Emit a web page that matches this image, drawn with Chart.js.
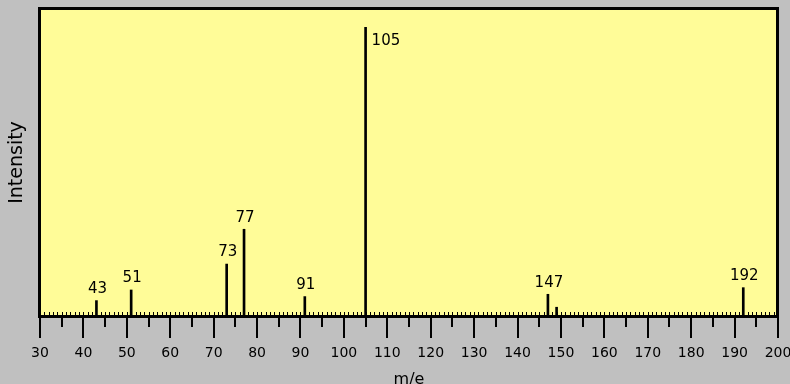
<!DOCTYPE html>
<html>
<head>
<meta charset="utf-8">
<script src="https://cdn.jsdelivr.net/npm/chart.js@4/dist/chart.umd.min.js"></script>
<style>
  html, body { margin: 0; padding: 0; background: #c0c0c0; }
  #wrap { width: 790px; height: 384px; }
</style>
</head>
<body>
<div id="wrap"><canvas id="c" width="790" height="384"></canvas></div>
<script>
// Mass spectrum: m/e values and relative intensities (base peak = 100)
const masses      = [43, 51, 73, 77, 91, 105, 147, 149, 192];
const intensities = [5.0, 8.7, 17.7, 29.8, 6.4, 100, 7.2, 2.7, 9.5];
const peakLabels  = ['43', '51', '73', '77', '91', '105', '147', '', '192'];
const xMin = 30, xMax = 200, xMajor = 10, xMid = 5;
const yMax = 106;

const BG = '#c0c0c0';
const PLOT_BG = '#fffc98';
const INK = '#000000';
const FONT = '"DejaVu Sans", sans-serif';

// Gray page, yellow plot area
const backdrop = {
  id: 'backdrop',
  beforeDraw(chart) {
    const { ctx, chartArea: a } = chart;
    ctx.save();
    ctx.fillStyle = BG;
    ctx.fillRect(0, 0, chart.width, chart.height);
    ctx.fillStyle = PLOT_BG;
    ctx.fillRect(a.left, a.top, a.right - a.left, a.bottom - a.top);
    ctx.restore();
  }
};

// Heavy frame, axis tick marks and peak annotations
const frameAndTicks = {
  id: 'frameAndTicks',
  afterDatasetsDraw(chart) {
    const { ctx, chartArea: a, scales } = chart;
    const xs = scales.x;
    ctx.save();
    ctx.fillStyle = INK;
    // frame
    ctx.fillRect(a.left - 2, a.top - 3, a.right - a.left + 3, 3);
    ctx.fillRect(a.left - 2, a.top - 3, 3, a.bottom - a.top + 6);
    ctx.fillRect(a.right - 2, a.top - 3, 3, a.bottom - a.top + 6);
    ctx.fillRect(a.left - 2, a.bottom, a.right - a.left + 3, 3);
    // ticks
    for (let v = xMin; v <= xMax; v++) {
      const px = Math.round(xs.getPixelForValue(v));
      if (v % xMajor === 0) {
        ctx.fillRect(px - 1, a.bottom + 3, 2, 20);
      } else if (v % xMid === 0) {
        ctx.fillRect(px - 1, a.bottom + 3, 2, 9);
      }
      ctx.fillRect(px, a.bottom - 3, 1, 3);
    }
    // peak labels
    const meta = chart.getDatasetMeta(0);
    ctx.font = '15px ' + FONT;
    ctx.fillStyle = INK;
    meta.data.forEach((bar, i) => {
      const txt = peakLabels[i];
      if (!txt) return;
      if (intensities[i] >= 90) {
        ctx.textAlign = 'left';
        ctx.textBaseline = 'middle';
        ctx.fillText(txt, bar.x + 6, bar.y + 14);
      } else {
        ctx.textAlign = 'center';
        ctx.textBaseline = 'bottom';
        ctx.fillText(txt, bar.x + 1, bar.y - 4);
      }
    });
    ctx.restore();
  }
};

new Chart(document.getElementById('c'), {
  type: 'bar',
  data: {
    datasets: [{
      data: masses.map((m, i) => ({ x: m, y: intensities[i] })),
      backgroundColor: INK,
      borderWidth: 0,
      barThickness: 2
    }]
  },
  options: {
    responsive: false,
    animation: false,
    devicePixelRatio: 1,
    layout: { padding: { top: 10, right: 12, left: 0, bottom: 0 } },
    plugins: { legend: { display: false }, tooltip: { enabled: false } },
    scales: {
      x: {
        type: 'linear',
        min: xMin,
        max: xMax,
        offset: false,
        afterFit(scale) {
          scale.height = 69;
          scale.paddingLeft = 0;
          scale.paddingRight = 0;
        },
        afterBuildTicks(scale) {
          const t = [];
          for (let v = xMin; v <= xMax; v += xMajor) t.push({ value: v });
          scale.ticks = t;
        },
        ticks: {
          autoSkip: false,
          maxRotation: 0,
          color: INK,
          padding: 30,
          font: { family: FONT, size: 14 },
          callback: v => String(v)
        },
        grid: { display: false, drawTicks: false, offset: false },
        border: { display: false },
        title: {
          display: true,
          text: 'm/e',
          color: INK,
          font: { family: FONT, size: 16 },
          padding: { top: 0, bottom: -5 }
        }
      },
      y: {
        min: 0,
        max: yMax,
        afterFit(scale) { scale.width = 40; },
        ticks: { display: false },
        grid: { display: false, drawTicks: false },
        border: { display: false },
        title: {
          display: true,
          text: 'Intensity',
          color: INK,
          font: { family: FONT, size: 19 },
          padding: { top: 6, bottom: 0 }
        }
      }
    }
  },
  plugins: [backdrop, frameAndTicks]
});
</script>
</body>
</html>
